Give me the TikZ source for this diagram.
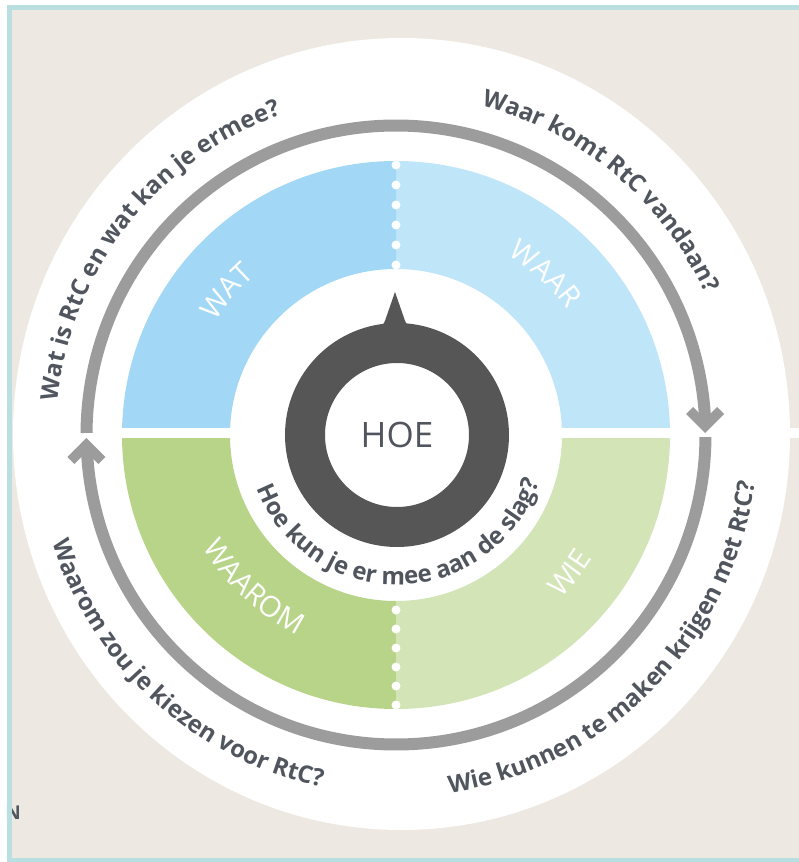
\documentclass[tikz,border=0pt]{standalone}
\usepackage{fontspec}
\setmainfont{Open Sans}
\usepackage{tikz}
\usetikzlibrary{decorations.text}

\definecolor{bgbeige}{HTML}{EDE9E2}
\definecolor{frameteal}{HTML}{B9DFE0}
\definecolor{watblue}{HTML}{A2D8F5}
\definecolor{waarblue}{HTML}{BFE5F9}
\definecolor{waaromgreen}{HTML}{B8D489}
\definecolor{wiegreen}{HTML}{D3E4B6}
\definecolor{ringgray}{HTML}{9C9C9C}
\definecolor{hoegray}{HTML}{565656}
\definecolor{txtgray}{HTML}{50555E}

\newcommand{\askfont}{\fontsize{24}{28}\selectfont\bfseries}
\newcommand{\quadfont}{\fontsize{29}{33}\selectfont}

\tikzset{
  arctext/.style={decorate, decoration={text along path, text align=center,
      text color=txtgray, text={|\askfont|#1}}},
  quadtext/.style={decorate, decoration={text along path, text align=center,
      text color=white, text={|\quadfont|#1}}},
  cyclearc/.style={draw=ringgray, line width=12}
}

\begin{document}
\begin{tikzpicture}[x=1pt, y=1pt]
    \useasboundingbox (-396,-427) rectangle (402,435);
    \fill[white] (-396,-427) rectangle (402,435);
    \fill[bgbeige] (-386.5,-425.5) rectangle (410,427.5);
    % big white disc
    \fill[white] (5.5,1) ellipse[x radius=388.5, y radius=396];
    % the four parts
    \foreach \col/\a in {waarblue/0, watblue/90, waaromgreen/180, wiegreen/270}
      \fill[\col] (\a:274) arc[start angle=\a, end angle=\a+90, radius=274]
        -- (\a+90:166) arc[start angle=\a+90, end angle=\a, radius=166] -- cycle;
    \fill[white] (-383,-3) rectangle (410,7);
    \foreach \y in {170,190,...,270}
      \fill[white] (0,\y) circle[radius=4.5];
    \foreach \y in {-175,-194,...,-270}
      \fill[white] (0,\y) circle[radius=4.5];
    % cycle arrows
    \path[cyclearc] (179.6:309.5) arc[start angle=179.6, end angle=2.8, radius=309.5];
    \fill[ringgray, shift={(309,2)}] (0,0) -- (-19,19) -- (-12,26) -- (0,14) -- (12,26) -- (19,19) -- cycle;
    \path[cyclearc] (-0.4:309.5) arc[start angle=-0.4, end angle=-177.2, radius=309.5];
    \fill[ringgray, shift={(-309.5,-3)}, yscale=-1] (0,0) -- (-19,19) -- (-12,26) -- (0,14) -- (12,26) -- (19,19) -- cycle;
    % HOE ring with pointer
    \fill[hoegray, even odd rule] (1,0) circle[radius=112] (1,0) circle[radius=72];
    \fill[hoegray] (-17,107) .. controls (-12,111) .. (-9,120) -- (-1,143) -- (7,120)
      .. controls (10,111) .. (15,107) -- cycle;
    \node[text=txtgray, font=\fontsize{35}{40}\selectfont] (hoe) at (1,0) {HOE};
    % questions
    \path[arctext={Wat is RtC en wat kan je ermee?}] (212:340) arc[start angle=212, end angle=72, radius=340];
    \path[arctext={Waar komt RtC vandaan?}] (120:340) arc[start angle=120, end angle=-20, radius=340];
    \path[arctext={Wie kunnen te maken krijgen met RtC?}] (-124:362) arc[start angle=-124, end angle=35, radius=362];
    \path[arctext={Waarom zou je kiezen voor RtC?}] (157.7:360) arc[start angle=157.7, end angle=297.7, radius=360];
    \path[arctext={Hoe kun je er mee aan de slag?}] (1,0) ++(191.3:150) arc[start angle=191.3, end angle=351.3, radius=150];
    % labels of the parts
    \path[quadtext={WAT}] (189.7:213) arc[start angle=189.7, end angle=89.7, radius=213];
    \path[quadtext={WAAR}] (97.2:212) arc[start angle=97.2, end angle=-2.8, radius=212];
    \path[quadtext={WAAROM}] (176.9:223) arc[start angle=176.9, end angle=276.9, radius=223];
    \path[quadtext={WIE}] (-88.4:232) arc[start angle=-88.4, end angle=11.6, radius=232];
    \node[text=txtgray, font=\fontsize{19}{21}\selectfont\bfseries] (cutn) at (-383,-378) {N};
    % frame
    \draw[frameteal, line width=5] (410,427.5) -- (-386.5,427.5) -- (-386.5,-425.5) -- (410,-425.5);
\end{tikzpicture}
\end{document}
